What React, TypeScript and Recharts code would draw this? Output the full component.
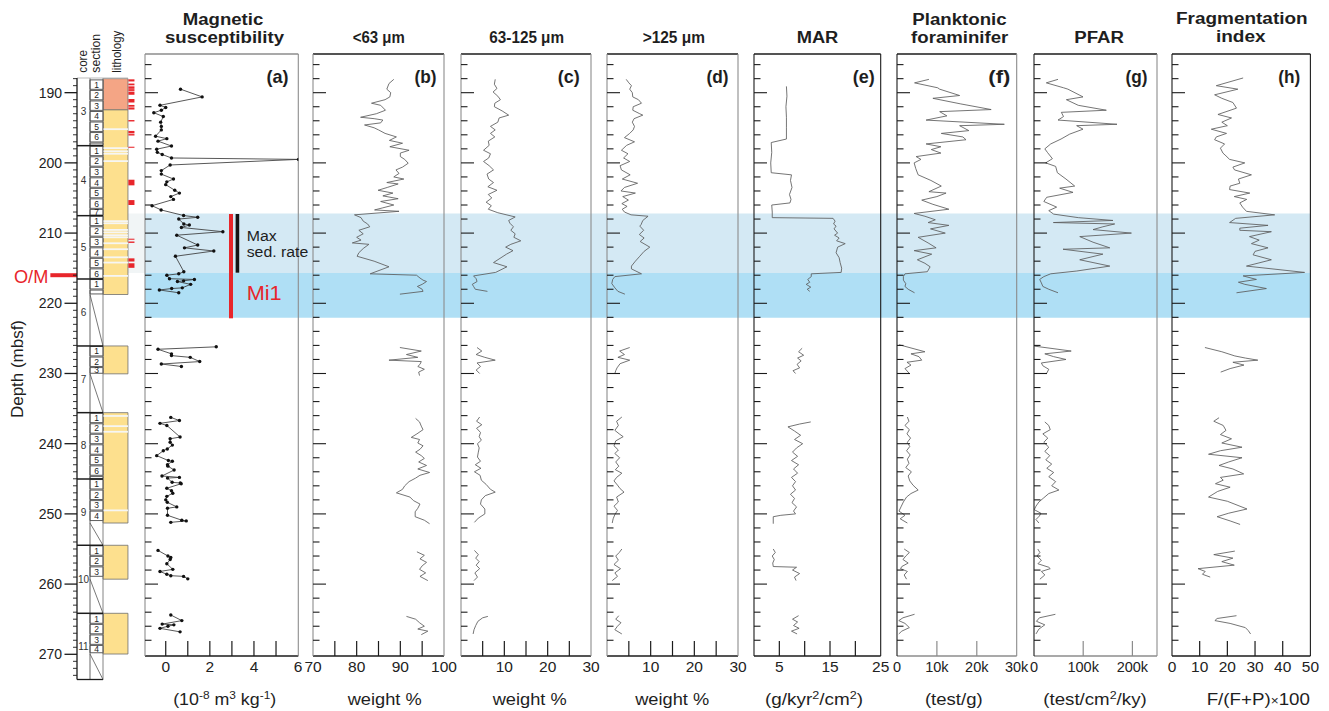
import React from 'react';
import { ComposedChart, LineChart, Line, XAxis, YAxis, ReferenceArea, ReferenceLine } from 'recharts';

const FONT = '"Liberation Sans", Arial, Helvetica, sans-serif';
const W = 1329, H = 711;
const PANEL_TOP = 54, PANEL_BOTTOM = 656;
const PANEL_DEPTH: [number, number] = [184.49, 270.24];
const LITH_TOP = 78, LITH_BOTTOM = 679.5;
const LITH_DEPTH: [number, number] = [187.91, 273.59];
const BLACK = '#1b1b1b', GRAY = '#8c8c8c', RED = '#e8262b';

type Pt = [number, number];

// ---------------- DATA ----------------
const magSus: Pt[][] = [
  [[189.5,0.67],[190.6,1.65],[191.8,-0.26],[192.1,0.0],[192.5,-0.2],[192.85,-0.54],[193.4,-0.11],[194.2,-0.23],[194.8,-0.2],[195.3,-0.2],[196.2,-0.46],[196.55,0.05],[196.9,-0.35],[197.6,0.26],[198.05,-0.41],[198.5,-0.38],[198.8,-0.16],[199.3,0.26],[199.5,6.02],[200.3,0.2],[201.1,-0.2],[201.6,-0.2],[202.3,0.35],[202.7,0.05],[203.1,0.0],[203.9,0.41],[204.3,0.62],[204.8,0.23],[205.2,0.35],[206.1,-0.62],[206.7,-0.21],[207.5,0.81],[207.75,1.45],[208.0,0.59],[208.7,0.82],[208.85,1.07],[209.2,0.71],[209.8,2.59],[210.3,0.5],[211.7,1.45],[212.1,0.85],[212.55,2.18],[213.3,0.44],[215.5,0.82],[215.8,0.59],[216.0,0.05],[216.5,0.17],[216.6,1.3],[216.8,0.81],[216.9,0.53],[217.3,1.13],[217.8,0.75],[217.9,0.27],[218.1,-0.29],[218.5,0.59]],
  [[226.2,2.29],[226.55,-0.35],[227.2,0.26],[227.45,0.26],[227.7,1.11],[228.3,1.54],[228.65,-0.2],[229.0,0.71]],
  [[236.25,0.23],[236.7,0.62],[237.1,-0.26],[237.4,0.05],[239.05,0.65],[239.3,0.2],[239.8,0.2],[240.2,0.3],[240.75,0.07],[241.0,-0.11],[241.7,-0.41],[242.4,0.12],[242.5,0.3],[243.0,0.08],[243.2,0.1],[243.75,0.38],[244.6,-0.17],[244.8,0.62],[244.9,0.08],[245.5,0.29],[245.6,0.66],[245.7,0.7],[246.35,0.05],[246.7,0.26],[247.05,0.32],[247.5,0.05],[248.0,0.0],[248.35,0.07],[249.0,0.5],[249.2,0.08],[250.2,0.08],[250.9,0.73],[251.0,0.93],[251.2,0.23]],
  [[255.2,-0.35],[256.0,0.1],[256.2,0.23],[256.5,0.2],[257.1,0.05],[257.9,0.32],[258.2,-0.26],[258.6,0.05],[258.8,0.23],[258.9,0.81],[259.25,1.0]],
  [[264.4,0.23],[265.2,0.73],[265.7,-0.16],[265.8,0.37],[266.0,0.1],[266.3,-0.26],[266.8,0.65]],
];

const fines: Pt[][] = [
  [[188.1,88.5],[188.7,87.4],[189.5,86.9],[190.0,87.8],[190.6,87.6],[191.0,86.5],[191.5,83.4],[191.8,85.5],[192.5,86.6],[193.0,84.5],[193.5,80.9],[193.7,84.0],[193.9,86.0],[194.3,85.5],[194.6,81.8],[195.0,84.0],[195.3,85.0],[195.8,86.5],[196.3,89.1],[196.8,87.5],[197.2,90.5],[197.7,87.6],[198.2,92.0],[198.6,90.0],[199.1,90.0],[199.5,91.0],[200.05,91.8],[200.6,90.5],[201.0,89.0],[201.5,89.7],[202.0,88.5],[202.3,90.8],[202.8,86.9],[203.0,89.5],[203.5,87.0],[203.9,84.9],[204.3,88.3],[204.7,86.0],[205.1,89.5],[205.5,85.5],[206.0,88.5],[206.4,86.0],[206.7,84.1],[206.9,89.7],[207.4,79.5],[207.8,81.0],[208.3,81.5],[208.7,82.5],[209.1,83.0],[209.6,80.5],[210.1,81.5],[210.6,80.0],[211.0,81.0],[211.4,79.0],[211.6,82.8],[212.2,81.5],[212.8,80.5],[213.3,80.1],[214.0,84.0],[214.8,87.4],[215.8,83.1],[216.0,93.7],[216.4,94.5],[216.7,95.2],[216.9,96.0],[217.3,95.0],[217.6,93.9],[218.0,95.0],[218.3,95.2],[218.7,89.9]],
  [[226.3,89.9],[226.8,94.8],[227.3,91.4],[227.7,94.0],[228.1,87.4],[228.3,94.8],[228.7,94.5],[229.0,94.0],[229.4,95.5],[229.8,94.2],[230.3,94.4]],
  [[236.4,93.5],[236.9,94.4],[237.5,94.8],[238.0,95.2],[238.6,93.8],[239.1,92.5],[239.4,94.4],[239.9,94.0],[240.3,95.2],[240.8,94.5],[241.2,93.5],[241.7,94.8],[242.1,95.5],[242.6,94.2],[243.1,96.0],[243.6,94.0],[244.1,96.7],[244.5,94.5],[244.9,93.5],[245.4,92.0],[246.0,91.0],[246.5,90.5],[247.0,89.1],[247.6,92.2],[248.1,93.0],[248.6,94.5],[249.2,94.0],[249.7,93.4],[250.4,93.4],[250.9,95.5],[251.4,96.7]],
  [[255.4,93.8],[255.9,95.5],[256.4,94.5],[256.9,96.0],[257.4,95.0],[257.9,94.4],[258.4,95.8],[258.9,94.5],[259.5,96.3]],
  [[264.6,91.4],[265.0,93.5],[265.5,94.4],[266.0,95.5],[266.4,94.0],[266.7,96.3],[267.2,94.8]],
];

const sand63: Pt[][] = [
  [[188.1,7.9],[188.8,7.7],[189.4,8.3],[189.9,7.4],[190.5,8.5],[191.0,9.1],[191.5,7.8],[192.0,7.7],[192.6,9.5],[193.2,11.0],[193.6,8.8],[194.2,8.5],[194.8,6.8],[195.3,7.9],[195.8,6.8],[196.3,7.8],[196.9,6.3],[197.5,6.5],[198.2,5.2],[198.7,6.8],[199.3,6.4],[199.8,5.2],[200.4,6.5],[201.0,7.5],[201.6,6.0],[202.3,6.4],[202.8,7.5],[203.4,6.2],[203.9,8.3],[204.5,6.3],[205.0,7.1],[205.6,5.8],[206.1,7.0],[206.6,6.3],[207.1,8.5],[207.7,12.5],[208.2,11.0],[208.6,11.3],[209.1,12.1],[209.6,11.5],[210.1,12.5],[210.6,12.2],[211.1,13.8],[211.6,11.5],[212.0,10.3],[212.5,12.0],[213.0,10.5],[213.6,9.0],[214.2,7.5],[214.8,10.6],[215.6,8.0],[216.1,2.9],[216.5,3.5],[216.9,3.7],[217.3,2.6],[217.6,2.9],[218.0,3.3],[218.3,6.1]],
  [[226.3,3.7],[226.8,4.8],[227.3,3.5],[227.7,5.5],[228.1,7.9],[228.5,3.7],[229.0,4.5],[229.5,3.5],[230.0,4.3]],
  [[236.2,4.3],[236.8,3.6],[237.3,4.8],[237.8,3.6],[238.4,4.5],[239.0,4.2],[239.5,4.7],[240.0,3.8],[240.6,4.2],[241.2,4.0],[241.9,3.8],[242.5,4.5],[243.0,3.3],[243.5,4.6],[244.0,3.1],[244.5,4.4],[245.2,4.7],[245.8,5.8],[246.5,6.8],[246.9,7.9],[247.4,5.6],[248.0,4.7],[248.6,4.5],[249.3,5.5],[250.0,5.5],[250.6,4.0],[251.2,3.1]],
  [[255.2,3.1],[255.8,4.0],[256.3,3.4],[256.8,4.2],[257.3,3.5],[257.8,4.3],[258.4,3.2],[259.0,3.8],[259.5,3.0]],
  [[264.6,6.2],[264.8,5.0],[265.3,3.9],[265.9,3.4],[266.5,3.0],[267.1,2.8]],
];

const sand125: Pt[][] = [
  [[188.1,4.4],[188.6,5.0],[189.0,5.6],[189.5,5.2],[190.0,5.8],[190.6,5.9],[191.0,7.2],[191.5,7.9],[192.0,6.0],[192.5,5.9],[193.0,7.5],[193.2,8.2],[193.7,6.2],[194.2,5.8],[194.8,6.3],[195.3,6.0],[195.8,5.2],[196.4,4.0],[197.0,6.3],[197.5,4.5],[198.2,3.3],[198.7,4.8],[199.3,3.8],[199.8,5.2],[200.4,3.0],[201.0,3.3],[201.7,5.3],[202.3,3.5],[202.9,7.0],[203.5,4.0],[204.0,3.2],[204.3,6.5],[204.8,3.6],[205.3,4.9],[205.8,3.4],[206.2,4.6],[206.6,3.5],[207.0,4.0],[207.4,5.5],[207.6,9.4],[208.2,8.2],[208.8,7.8],[209.0,7.5],[209.6,8.4],[210.2,7.4],[210.7,8.5],[211.2,7.6],[212.0,9.8],[212.6,8.5],[213.3,7.5],[214.0,6.5],[214.7,5.6],[215.1,5.6],[215.8,7.9],[216.2,1.8],[216.6,1.3],[217.2,1.1],[217.8,1.8],[218.3,2.5],[218.7,4.1]],
  [[226.3,5.2],[226.8,2.9],[227.3,4.0],[227.7,2.5],[228.1,5.2],[228.6,3.0],[229.2,2.3],[229.6,2.0],[230.0,1.8]],
  [[236.2,3.4],[236.8,2.2],[237.4,2.6],[238.1,1.8],[238.6,2.8],[239.0,3.7],[239.6,2.0],[240.3,1.6],[240.9,2.6],[241.4,1.8],[242.0,2.9],[242.6,2.0],[243.2,2.7],[243.7,1.9],[244.2,3.4],[244.8,2.2],[245.3,1.6],[245.9,2.4],[246.4,3.0],[246.9,3.9],[247.6,2.2],[248.3,2.6],[248.9,1.6],[249.5,2.4],[250.1,1.8],[250.7,1.4],[251.3,1.2]],
  [[255.0,3.4],[255.5,2.8],[256.0,2.0],[256.6,2.6],[257.2,1.6],[257.8,3.1],[258.4,1.8],[258.9,2.4],[259.5,1.2]],
  [[264.5,2.7],[265.0,2.0],[265.5,3.2],[266.0,2.4],[266.5,1.8],[267.1,3.4]],
];

const mar: Pt[][] = [
  [[189.1,6.4],[190.5,6.5],[192.0,6.3],[193.5,6.4],[195.0,6.4],[196.6,6.4],[197.1,3.4],[198.5,3.5],[200.0,3.3],[201.4,3.4],[201.7,7.4],[202.5,7.2],[203.5,7.5],[204.5,7.0],[205.2,7.3],[205.7,7.1],[206.0,3.5],[207.0,3.6],[207.8,3.6],[207.9,15.6],[208.3,16.0],[208.7,15.7],[209.0,16.2],[209.4,15.8],[210.0,16.5],[210.3,15.9],[210.7,16.8],[211.1,16.3],[211.5,18.0],[212.0,16.5],[212.8,16.2],[213.5,16.8],[214.2,17.0],[215.0,17.3],[215.6,17.2],[215.8,11.3],[216.2,11.3],[216.6,10.6],[217.0,11.0],[217.3,10.3],[217.7,11.2],[218.0,10.5],[218.3,11.0]],
  [[226.4,9.5],[226.9,8.8],[227.4,9.8],[227.8,8.6],[228.2,9.3],[228.7,8.5],[229.2,9.0],[229.6,7.7],[230.0,8.2]],
  [[236.9,11.2],[237.2,9.0],[237.6,6.7],[238.2,8.0],[238.8,9.2],[239.4,8.0],[240.0,9.6],[240.6,8.4],[241.2,7.6],[241.8,8.6],[242.4,7.4],[243.0,8.8],[243.6,7.8],[244.2,8.6],[244.8,7.4],[245.4,8.2],[246.0,7.6],[246.6,8.2],[247.2,7.2],[247.8,8.0],[248.4,7.5],[249.0,8.4],[249.6,7.8],[250.0,8.2],[250.2,5.3],[250.4,3.8],[251.4,3.8]],
  [[255.0,3.8],[255.5,4.2],[256.0,3.6],[256.5,4.0],[257.0,3.7],[257.5,3.8],[257.6,8.4],[258.0,7.6],[258.5,9.0],[259.0,8.0],[259.5,8.3]],
  [[264.5,8.8],[265.0,7.6],[265.4,8.6],[265.9,7.8],[266.3,8.9],[266.7,7.4],[267.1,8.5]],
];

// thousands of tests per gram
const planktonicK: Pt[][] = [
  [[188.1,8.0],[188.6,4.4],[189.3,10.2],[189.5,10.7],[190.4,15.7],[190.8,9.0],[191.6,16.0],[192.4,23.6],[192.7,10.7],[193.3,12.5],[193.9,7.3],[194.5,26.9],[194.7,15.7],[195.4,18.0],[195.8,11.1],[196.3,16.5],[196.7,17.3],[197.3,7.3],[197.7,11.0],[198.1,8.6],[198.6,11.0],[199.1,4.8],[199.5,6.0],[200.0,4.3],[200.8,4.7],[201.7,5.3],[202.5,8.5],[203.3,11.1],[204.1,8.0],[204.3,12.3],[204.8,10.0],[205.3,6.2],[205.9,9.0],[206.6,13.0],[207.2,4.3],[207.6,7.0],[208.1,9.6],[208.5,7.8],[208.9,13.0],[209.4,8.4],[210.0,12.1],[210.6,5.3],[211.4,7.8],[212.1,9.8],[212.5,4.3],[213.0,8.7],[213.8,5.1],[214.3,7.0],[214.8,8.3],[215.5,7.6],[215.8,2.0],[216.2,1.6],[216.7,1.6],[217.2,2.2],[217.6,2.0],[218.0,2.8],[218.5,4.4]],
  [[225.9,0.5],[226.9,7.0],[227.2,3.5],[227.6,5.5],[228.1,6.2],[228.4,2.5],[228.8,3.5],[229.3,2.0],[230.0,3.1]],
  [[236.2,2.6],[236.8,3.0],[237.4,2.0],[238.0,3.1],[238.6,2.5],[239.2,3.4],[239.8,2.6],[240.4,3.2],[241.0,2.4],[241.6,3.3],[242.2,2.6],[242.8,3.0],[243.4,2.2],[244.0,3.6],[244.6,2.8],[245.3,3.2],[245.9,4.0],[246.6,5.3],[247.1,3.5],[247.6,2.4],[248.3,1.6],[249.0,1.0],[249.6,0.5],[250.2,2.0],[250.7,0.8],[251.3,2.6]],
  [[255.0,1.8],[255.5,3.1],[256.0,2.2],[256.5,1.5],[257.0,2.8],[257.5,1.2],[257.8,0.9],[258.2,2.6],[258.7,1.8],[259.3,2.4]],
  [[264.3,4.4],[264.8,1.5],[265.2,0.45],[265.6,2.0],[266.2,3.1],[266.7,1.2],[267.1,0.45]],
];

// thousands of tests / cm2 / ky
const pfarK: Pt[][] = [
  [[188.1,48.8],[188.6,25],[189.3,60],[189.5,69],[190.6,99.6],[191.0,65.8],[191.8,90],[192.5,147],[192.8,55.6],[193.4,60],[193.9,48.8],[194.5,168.7],[194.7,86.7],[195.2,99.6],[195.9,72.6],[196.6,55],[197.3,34],[198.0,22],[198.5,27.2],[199.4,37.4],[200.0,23.8],[200.5,44],[201.4,47.5],[202.3,65],[203.3,82.7],[203.6,52.2],[204.2,79.3],[204.9,25.8],[205.5,20],[206.3,46],[206.8,30],[207.3,40],[207.8,90],[208.2,160.6],[208.5,39.4],[208.7,164],[209.1,140],[209.5,120],[210.0,198],[210.5,93],[211.3,120],[212.1,154],[212.3,59],[213.0,140],[213.8,93],[214.7,154],[215.4,87],[215.8,34],[216.2,20],[216.6,11.6],[217.1,15],[217.6,18],[218.0,30],[218.5,48.8]],
  [[226.1,0.6],[226.8,75.6],[227.2,22],[227.6,40],[228.0,65],[228.5,15],[228.9,18],[229.4,30],[230.0,25.6]],
  [[236.9,22],[237.4,30],[238.0,33],[238.6,18],[239.2,28],[239.8,20],[240.5,30],[241.1,22],[241.7,32],[242.3,24],[242.9,36],[243.5,26],[244.1,40],[244.7,30],[245.4,44],[246.0,36],[246.6,50.6],[247.1,30],[247.7,20],[248.3,10],[248.9,4],[249.4,0.6],[249.9,14],[250.3,11],[250.8,4],[251.3,10]],
  [[255.0,7.7],[255.5,12],[256.0,6],[256.6,15],[257.1,8],[257.6,30],[257.8,33],[258.2,15],[258.7,22],[259.3,12]],
  [[264.3,43.5],[264.8,11],[265.3,5],[265.8,22],[266.4,10],[267.1,4]],
];

const fragIndex: Pt[][] = [
  [[187.9,25.7],[189.0,16.0],[189.5,23.8],[190.3,15.4],[190.8,18.0],[191.4,22.0],[192.2,23.3],[193.1,16.6],[193.6,21.5],[194.2,18.0],[194.7,20.0],[195.2,14.2],[195.8,19.7],[196.3,16.0],[196.7,15.4],[197.3,19.0],[197.9,17.5],[198.6,18.4],[199.0,19.5],[199.5,20.8],[200.0,26.3],[200.6,22.0],[201.0,22.6],[201.7,28.7],[202.3,24.0],[202.9,24.5],[203.3,21.0],[203.8,20.8],[204.3,28.1],[204.8,22.5],[205.2,27.0],[205.7,24.5],[206.3,25.5],[206.9,26.9],[207.4,37.1],[207.9,23.0],[208.5,20.8],[208.9,34.7],[209.3,24.5],[209.6,24.5],[209.8,35.9],[210.5,28.0],[211.0,31.5],[211.5,28.7],[212.1,34.7],[212.6,30.0],[213.1,29.3],[213.8,35.9],[214.7,26.9],[215.6,47.9],[216.1,25.7],[216.6,30.5],[217.0,24.0],[217.3,26.3],[217.9,34.1],[218.5,23.3]],
  [[226.3,11.9],[226.9,18.0],[227.5,22.7],[227.8,26.5],[228.1,31.0],[228.4,22.0],[228.8,26.0],[229.3,21.0],[229.8,17.6]],
  [[236.3,17.0],[236.8,15.1],[237.4,18.5],[238.1,19.5],[238.7,17.5],[239.3,21.5],[239.9,18.0],[240.5,25.3],[241.0,17.5],[241.5,13.2],[242.0,25.3],[242.6,20.5],[243.1,17.0],[243.6,22.0],[244.3,25.9],[244.8,17.5],[245.2,18.5],[245.7,15.7],[246.2,21.0],[246.8,16.5],[247.6,13.2],[248.2,20.0],[249.3,27.1],[249.9,20.5],[250.4,16.3],[251.0,21.0],[251.5,24.6]],
  [[255.3,22.7],[255.8,15.1],[256.3,22.0],[256.8,18.0],[257.3,22.5],[257.8,9.4],[258.2,12.0],[258.6,11.0],[259.0,13.8]],
  [[264.5,23.3],[264.9,16.3],[265.2,15.5],[265.6,21.0],[266.2,26.5],[266.6,27.5],[267.1,28.4]],
];

// Core / section / lithology description (depths in mbsf)
const cores = [
  { core: '3', top: 187.91, bottom: 197.55 },
  { core: '4', top: 197.55, bottom: 207.52 },
  { core: '5', top: 207.52, bottom: 216.54 },
  { core: '6', top: 216.54, bottom: 226.08 },
  { core: '7', top: 226.08, bottom: 235.58 },
  { core: '8', top: 235.58, bottom: 245.03 },
  { core: '9', top: 245.03, bottom: 254.47 },
  { core: '10', top: 254.47, bottom: 264.16 },
  { core: '11', top: 264.16, bottom: 273.59 },
];
const sectionRuns = [
  { top: 188.1, count: 7, end: 197.55 },
  { top: 197.55, count: 7, end: 207.52 },
  { top: 207.52, count: 6, end: 216.54 },
  { top: 216.54, count: 2, end: 218.75 },
  { top: 226.08, count: 3, end: 230.05 },
  { top: 235.58, count: 7, end: 245.03 },
  { top: 245.03, count: 4, end: 251.1 },
  { top: 254.47, count: 3, end: 259.1 },
  { top: 264.16, count: 4, end: 269.86 },
];
const SECTION_LENGTH = 1.5;
const lithUnits = [
  { top: 188.0, bottom: 192.45, kind: 'clay' },
  { top: 192.45, bottom: 218.75, kind: 'ooze' },
  { top: 226.08, bottom: 230.05, kind: 'ooze' },
  { top: 235.58, bottom: 251.3, kind: 'ooze' },
  { top: 254.47, bottom: 259.3, kind: 'ooze' },
  { top: 264.16, bottom: 269.96, kind: 'ooze' },
];
const noRecovery: Pt[] = [[218.75, 226.08], [230.05, 235.58], [251.3, 254.47], [259.3, 264.16], [269.96, 273.59]];
const whiteLayers = [195.2, 197.9, 198.35, 198.7, 199.75, 208.3, 208.6, 209.55, 209.9, 210.3, 210.6, 211.45, 212.3, 213.45, 214.2, 216.1, 236.05, 237.5, 238.3, 249.5];
const redMarks: Pt[] = [[188.1,188.4],[188.7,188.95],[189.1,189.45],[189.5,189.75],[189.85,190.3],[190.9,191.4],[191.75,192.0],[192.1,192.4],[193.9,194.1],[195.45,195.8],[195.9,196.1],[197.7,197.85],[202.4,203.2],[205.3,206.0],[210.8,210.95],[211.2,211.4],[213.6,214.05],[214.3,214.95]];

const bands = [ { from: 207.2, to: 215.7 }, { from: 215.7, to: 222.05 } ];
const BAND_COLORS = ['#d4e9f4', '#afdff5'];
const maxSedRate = { top: 207.28, bottom: 215.64 };
const mi1 = { top: 207.28, bottom: 222.14 };
const omBoundary = 216.0;

// ---------------- helpers ----------------
type Row = { depth: number; [k: string]: number };
function toRows(segs: Pt[][]): Row[] {
  const rows: Row[] = [];
  segs.forEach((seg, i) => seg.forEach(([d, v]) => rows.push({ depth: d, ['s' + i]: v })));
  return rows;
}
const panelDepthTicks: number[] = [];
for (let d = 186; d <= 268; d += 2) panelDepthTicks.push(d);
const lithDepthTicks: number[] = [];
for (let d = 188; d <= 273; d += 1) lithDepthTicks.push(d);

type PanelCfg = {
  id: string; left: number; right: number; domain: [number, number];
  lines: number[]; labels: number[]; fmt?: (v: number) => string;
  segs: Pt[][]; dots?: boolean; border: { top: string; right: string; left: string; bottom: string };
  labelSize?: number; extra?: React.ReactNode;
};

function Panel({ cfg }: { cfg: PanelCfg }) {
  const mL = 24, mR = 24;
  const width = cfg.right - cfg.left + mL + mR;
  const ticks = Array.from(new Set([...cfg.lines, ...cfg.labels])).sort((a, b) => a - b);
  const fmt = cfg.fmt || ((v: number) => String(v));
  const rows = toRows(cfg.segs);
  const YTick = (p: any) => {
    const v = p.payload.value;
    const major = Math.abs(v % 10) < 1e-6;
    return <line x1={mL} x2={mL + (major ? 13 : 6.5)} y1={p.y} y2={p.y} stroke={BLACK} strokeWidth={1.1} />;
  };
  const XTick = (p: any) => {
    const v = p.payload.value;
    return (
      <g>
        {cfg.lines.includes(v) && <line x1={p.x} x2={p.x} y1={PANEL_BOTTOM} y2={PANEL_BOTTOM - 15} stroke={cfg.border.bottom} strokeWidth={1.2} />}
        {cfg.labels.includes(v) && (
          <text x={p.x} y={672} textAnchor="middle" fontSize={cfg.labelSize || 15.5} fontFamily={FONT} fill="#222">{fmt(v)}</text>
        )}
      </g>
    );
  };
  return (
    <div style={{ position: 'absolute', left: cfg.left - mL, top: 0 }}>
      <LineChart width={width} height={H} data={rows} layout="vertical"
        margin={{ top: PANEL_TOP - 1, bottom: H - PANEL_BOTTOM - 30, left: mL - 1, right: mR - 1 }}>
        <XAxis type="number" domain={cfg.domain} allowDataOverflow ticks={ticks} interval={0} height={30}
          tickSize={0} tickMargin={0} tickLine={false} tick={XTick}
          axisLine={{ stroke: cfg.border.bottom, strokeWidth: 1.6 }} />
        <XAxis xAxisId="t" orientation="top" type="number" domain={cfg.domain} allowDataOverflow height={1}
          tick={false} tickLine={false} axisLine={{ stroke: cfg.border.top, strokeWidth: 1.3 }} />
        <YAxis type="number" dataKey="depth" domain={PANEL_DEPTH} allowDataOverflow ticks={panelDepthTicks} interval={0}
          width={1} tickSize={0} tickMargin={0} tickLine={false} tick={YTick}
          axisLine={{ stroke: cfg.border.left, strokeWidth: 1.1 }} />
        <YAxis yAxisId="r" orientation="right" type="number" dataKey="depth" domain={PANEL_DEPTH} allowDataOverflow width={1}
          tick={false} tickLine={false} axisLine={{ stroke: cfg.border.right, strokeWidth: 1.1 }} />
        {cfg.extra}
        {cfg.segs.map((_, i) => (
          <Line key={i} type="linear" dataKey={'s' + i} stroke={cfg.dots ? '#3a3a3a' : '#5c5c5c'} strokeWidth={0.85}
            dot={cfg.dots ? { r: 1.7, fill: '#111', stroke: 'none' } : false}
            isAnimationActive={false} />
        ))}
      </LineChart>
    </div>
  );
}

const grayBorder = { top: GRAY, right: GRAY, left: GRAY, bottom: BLACK };
const blackTop = { top: BLACK, right: GRAY, left: GRAY, bottom: BLACK };

const panels: PanelCfg[] = [
  { id: 'a', left: 145, right: 298.3, domain: [-0.94, 6.01], lines: [0, 1, 2, 3, 4, 5], labels: [0, 2, 4, 6],
    segs: magSus, dots: true, border: grayBorder,
    extra: [
      <ReferenceLine key="mi1" segment={[{ x: 2.96, y: mi1.top }, { x: 2.96, y: mi1.bottom }]} stroke={RED} strokeWidth={4} ifOverflow="visible" />,
      <ReferenceLine key="msr" segment={[{ x: 3.25, y: maxSedRate.top }, { x: 3.25, y: maxSedRate.bottom }]} stroke="#151515" strokeWidth={3.6} ifOverflow="visible" />,
    ] },
  { id: 'b', left: 313.3, right: 444.3, domain: [70, 100], lines: [75, 80, 85, 90, 95], labels: [70, 80, 90, 100], segs: fines, border: blackTop },
  { id: 'c', left: 460.7, right: 590.7, domain: [0, 30], lines: [5, 10, 15, 20, 25], labels: [10, 20, 30], segs: sand63, border: blackTop },
  { id: 'd', left: 607.3, right: 738.3, domain: [0, 30], lines: [5, 10, 15, 20, 25], labels: [10, 20, 30], segs: sand125, border: blackTop },
  { id: 'e', left: 754.3, right: 881, domain: [0, 25], lines: [5, 10, 15, 20], labels: [5, 15, 25], segs: mar,
    border: { top: BLACK, right: BLACK, left: BLACK, bottom: BLACK } },
  { id: 'f', left: 897.3, right: 1017, domain: [0, 30], lines: [10, 20], labels: [0, 10, 20, 30], fmt: (v) => (v === 0 ? '0' : v + 'k'),
    segs: planktonicK, labelSize: 14.5, border: { top: BLACK, right: GRAY, left: BLACK, bottom: GRAY } },
  { id: 'g', left: 1034.3, right: 1157.3, domain: [0, 250], lines: [100, 200], labels: [0, 100, 200], fmt: (v) => (v === 0 ? '0' : v + 'k'),
    segs: pfarK, labelSize: 14.5, border: { top: BLACK, right: GRAY, left: BLACK, bottom: GRAY } },
  { id: 'h', left: 1172.3, right: 1310.7, domain: [0, 50], lines: [10, 20, 30, 40], labels: [0, 10, 20, 30, 40, 50], segs: fragIndex,
    border: { top: BLACK, right: BLACK, left: BLACK, bottom: BLACK } },
];

function Bands() {
  return (
    <div style={{ position: 'absolute', left: 0, top: 0 }}>
      <ComposedChart width={W} height={H} layout="vertical" data={bands}
        margin={{ top: PANEL_TOP, bottom: H - PANEL_BOTTOM, left: 145, right: W - 1310.7 }}>
        <XAxis type="number" domain={[0, 1]} allowDataOverflow hide />
        <YAxis type="number" dataKey="from" domain={PANEL_DEPTH} allowDataOverflow hide />
        {bands.map((b, i) => (
          <ReferenceArea key={i} x1={0} x2={1} y1={b.from} y2={b.to} fill={BAND_COLORS[i]} fillOpacity={1} stroke="none" ifOverflow="visible" />
        ))}
      </ComposedChart>
    </div>
  );
}

function Lithology() {
  const axisX = 77;
  const DepthTick = (p: any) => {
    const v = p.payload.value;
    const major = v % 10 === 0;
    return (
      <g>
        <line x1={axisX - (major ? 12.5 : 4)} x2={axisX} y1={p.y} y2={p.y} stroke={BLACK} strokeWidth={major ? 1.3 : 0.9} />
        {major && <text x={62} y={p.y + 5} textAnchor="end" fontSize={14} fontFamily={FONT} fill="#222">{v}</text>}
      </g>
    );
  };
  const sections: { top: number; bottom: number; n: number }[] = [];
  sectionRuns.forEach((r) => {
    for (let i = 0; i < r.count; i++) {
      const top = r.top + i * SECTION_LENGTH;
      sections.push({ top, bottom: Math.min(top + SECTION_LENGTH, r.end), n: i + 1 });
    }
  });
  const COL = { core: [0, 1], section: [1, 2], lith: [2, 3.92], red: [3.95, 4.42] };
  return (
    <div style={{ position: 'absolute', left: 0, top: 0 }}>
      <ComposedChart width={145} height={H} layout="vertical" data={cores}
        margin={{ top: LITH_TOP, bottom: H - LITH_BOTTOM, left: 17, right: 145 - 77 - 58.5 }}>
        <XAxis type="number" domain={[0, 4.5]} allowDataOverflow hide />
        <YAxis type="number" dataKey="top" domain={LITH_DEPTH} allowDataOverflow ticks={lithDepthTicks} interval={0} width={60}
          tickSize={0} tickMargin={0} tickLine={false} tick={DepthTick} axisLine={{ stroke: BLACK, strokeWidth: 1.3 }} />
        <ReferenceArea x1={COL.lith[1]} x2={5.25} y1={bands[0].from} y2={bands[0].to} fill="#f1f5f6" fillOpacity={1} stroke="none" ifOverflow="visible" />
        {lithUnits.map((u, i) => (
          <ReferenceArea key={'l' + i} x1={COL.lith[0]} x2={COL.lith[1]} y1={u.top} y2={u.bottom}
            fill={u.kind === 'clay' ? '#f4a585' : '#fde08e'} fillOpacity={1} stroke="#6e6e6e" strokeWidth={0.8} ifOverflow="visible" />
        ))}
        {whiteLayers.map((d, i) => (
          <ReferenceLine key={'w' + i} segment={[{ x: COL.lith[0], y: d }, { x: COL.lith[1], y: d }]} stroke="#f6f6f4" strokeWidth={1.8} ifOverflow="visible" />
        ))}
        {sections.map((s, i) => (
          <ReferenceArea key={'s' + i} x1={COL.section[0]} x2={COL.section[1]} y1={s.top + 0.08} y2={s.bottom - 0.08}
            fill="#fff" fillOpacity={1} stroke="#333" strokeWidth={0.8} ifOverflow="visible"
            label={s.bottom - s.top > 0.9 ? { value: String(s.n), position: 'center', fontSize: 8.5, fill: '#222', fontFamily: FONT } : undefined} />
        ))}
        <ReferenceLine segment={[{ x: 1, y: LITH_DEPTH[0] }, { x: 1, y: LITH_DEPTH[1] }]} stroke="#555" strokeWidth={0.9} ifOverflow="visible" />
        <ReferenceLine segment={[{ x: 2, y: LITH_DEPTH[0] }, { x: 2, y: LITH_DEPTH[1] }]} stroke="#777" strokeWidth={0.9} ifOverflow="visible" />
        <ReferenceLine segment={[{ x: 0, y: LITH_DEPTH[0] }, { x: 3.92, y: LITH_DEPTH[0] }]} stroke="#bbb" strokeWidth={1} ifOverflow="visible" />
        <ReferenceLine segment={[{ x: 0, y: LITH_DEPTH[1] }, { x: 2, y: LITH_DEPTH[1] }]} stroke={BLACK} strokeWidth={1.3} ifOverflow="visible" />
        {noRecovery.map(([a, b], i) => (
          <ReferenceLine key={'g' + i} segment={[{ x: 1, y: a }, { x: 2, y: b }]} stroke="#555" strokeWidth={0.8} ifOverflow="visible" />
        ))}
        {cores.slice(1).map((c, i) => (
          <ReferenceLine key={'c' + i} segment={[{ x: 0, y: c.top }, { x: 2, y: c.top }]} stroke={BLACK} strokeWidth={1.5} ifOverflow="visible" />
        ))}
        {cores.map((c, i) => (
          <ReferenceArea key={'cl' + i} x1={COL.core[0]} x2={COL.core[1]} y1={c.top} y2={c.bottom} fill="none" stroke="none" ifOverflow="visible"
            label={{ value: c.core, position: 'center', fontSize: 10, fill: '#333', fontFamily: FONT }} />
        ))}
        {redMarks.map(([a, b], i) => (
          <ReferenceArea key={'r' + i} x1={COL.red[0]} x2={COL.red[1]} y1={a} y2={b} fill={RED} fillOpacity={1} stroke="none" ifOverflow="visible" />
        ))}
        <ReferenceLine segment={[{ x: -2.05, y: omBoundary }, { x: 0, y: omBoundary }]} stroke={RED} strokeWidth={4} ifOverflow="visible" />
      </ComposedChart>
    </div>
  );
}

const T = ({ x, y, s, w, len, anchor = 'middle', fill = '#1e1e1e', children, rotate }: any) => (
  <text x={x} y={y} fontSize={s} fontWeight={w} textAnchor={anchor} fill={fill} fontFamily={FONT}
    textLength={len} lengthAdjust={len ? 'spacingAndGlyphs' : undefined}
    transform={rotate ? `rotate(${rotate} ${x} ${y})` : undefined}>{children}</text>
);

function Texts() {
  const ts = 16.8;
  const us = 16.5;
  return (
    <svg width={W} height={H} style={{ position: 'absolute', left: 0, top: 0, pointerEvents: 'none' }}>
      <T x={223} y={25} s={ts} w="bold" len={80.6}>Magnetic</T>
      <T x={224.5} y={43} s={ts} w="bold" len={119}>susceptibility</T>
      <T x={378.8} y={43} s={ts} w="bold" len={52}>{'<63 μm'}</T>
      <T x={526.7} y={43} s={ts} w="bold" len={74.7}>{'63-125 μm'}</T>
      <T x={673.8} y={43} s={ts} w="bold" len={62.3}>{'>125 μm'}</T>
      <T x={817.5} y={43} s={ts} w="bold" len={41.7}>MAR</T>
      <T x={959.5} y={25} s={ts} w="bold" len={94.4}>Planktonic</T>
      <T x={959.7} y={43} s={ts} w="bold" len={97.3}>foraminifer</T>
      <T x={1099.2} y={43} s={ts} w="bold" len={49.7}>PFAR</T>
      <T x={1241.8} y={24} s={ts} w="bold" len={131.7}>Fragmentation</T>
      <T x={1240.8} y={41.5} s={ts} w="bold" len={49.7}>index</T>

      {[['(a)', 277.5], ['(b)', 425.5], ['(c)', 568.7], ['(d)', 717.4], ['(e)', 863.8], ['(f)', 999.3], ['(g)', 1136.5], ['(h)', 1289.3]].map(([t, x]) => (
        <T key={t as string} x={x} y={82.5} s={18.5} w="bold" len={22}>{t}</T>
      ))}

      <T x={224.7} y={705} s={us} len={103}>(10<tspan dy={-6} fontSize={11}>-8</tspan><tspan dy={6}> m</tspan><tspan dy={-6} fontSize={11}>3</tspan><tspan dy={6}> kg</tspan><tspan dy={-6} fontSize={11}>-1</tspan><tspan dy={6}>)</tspan></T>
      <T x={384.7} y={705} s={us} len={74}>weight %</T>
      <T x={529.7} y={705} s={us} len={74}>weight %</T>
      <T x={672.2} y={705} s={us} len={74}>weight %</T>
      <T x={814} y={705} s={us} len={98}>(g/kyr<tspan dy={-6} fontSize={11}>2</tspan><tspan dy={6}>/cm</tspan><tspan dy={-6} fontSize={11}>2</tspan><tspan dy={6}>)</tspan></T>
      <T x={953.8} y={705} s={us} len={57.7}>(test/g)</T>
      <T x={1095} y={705} s={us} len={103.4}>(test/cm<tspan dy={-6} fontSize={11}>2</tspan><tspan dy={6}>/ky)</tspan></T>
      <T x={1258.3} y={705} s={us} len={103.3}>F/(F+P)<tspan fontSize={12}>×</tspan>100</T>

      <T x={87.3} y={72.7} s={12.5} anchor="start" rotate={-90} len={22.7}>core</T>
      <T x={100} y={72.7} s={12.5} anchor="start" rotate={-90} len={38.7}>section</T>
      <T x={121.3} y={72.7} s={12.5} anchor="start" rotate={-90} len={42}>lithology</T>
      <T x={22.5} y={369} s={17} rotate={-90} len={98}>Depth (mbsf)</T>

      <T x={14} y={282.5} s={19} anchor="start" fill={RED} len={34.3}>O/M</T>
      <T x={246.7} y={300} s={21} anchor="start" fill={RED} len={35}>Mi1</T>
      <T x={246.7} y={240.7} s={15.5} anchor="start" len={30}>Max</T>
      <T x={246.7} y={257.3} s={15.5} anchor="start" len={61.6}>sed. rate</T>
    </svg>
  );
}

export default function App() {
  return (
    <div style={{ position: 'absolute', left: 0, top: 0, width: W, height: H, background: '#fff', overflow: 'hidden', fontFamily: FONT }}>
      <Bands />
      <Lithology />
      {panels.map((p) => <Panel key={p.id} cfg={p} />)}
      <Texts />
    </div>
  );
}
